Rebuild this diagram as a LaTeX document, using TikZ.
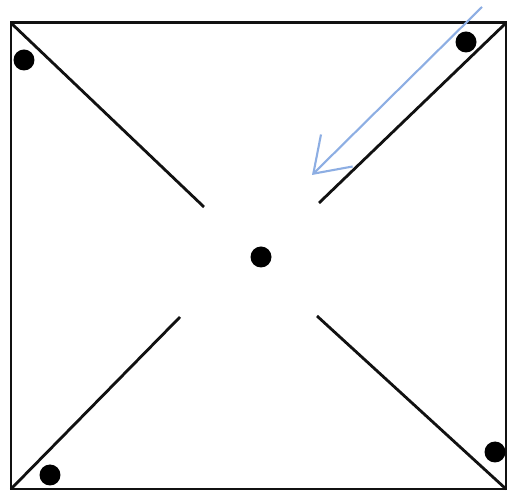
\documentclass[tikz,border=0pt]{standalone}
\usepackage{xcolor}
\usepackage{tikz}
\usetikzlibrary{arrows.meta}
\definecolor{WindInk}{HTML}{111111}
\definecolor{WindBlue}{HTML}{8DAEE3}

\begin{document}
\begin{tikzpicture}[
  x=0.02cm, y=-0.02cm,
  frame/.style={draw=WindInk, line width=1.7pt},
  cut/.style={draw=WindInk, line width=1.6pt},
  pin/.style={circle, fill=black, inner sep=0pt, minimum size=0.42cm},
  wind/.style={draw=WindBlue, line width=1.2pt, -{Straight Barb[length=0.66cm, width=0.9cm, line width=1.2pt]}}
]
\useasboundingbox (0,0) rectangle (507,492);
\coordinate (tl) at (11,23);
\coordinate (tr) at (506,23);
\coordinate (br) at (506,489);
\coordinate (bl) at (11,489);
\draw[frame] (tl) -- (tr) -- (br) -- (bl) -- cycle;
\foreach \corner/\inner/\x/\y in {tl/itl/204/207, tr/itr/319/203, bl/ibl/180/317, br/ibr/317/316}{
  \coordinate (\inner) at (\x,\y);
  \draw[cut] (\corner) -- (\inner);
}
\foreach \name/\x/\y in {ptl/24/60, ptr/466/42, pbl/50/475, pbr/495/452, pc/261/257}{
  \node[pin] (\name) at (\x,\y) {};
}
\coordinate (w0) at (482,7);
\coordinate (w1) at (312,175);
\draw[wind] (w0) -- (w1);
\end{tikzpicture}
\end{document}
